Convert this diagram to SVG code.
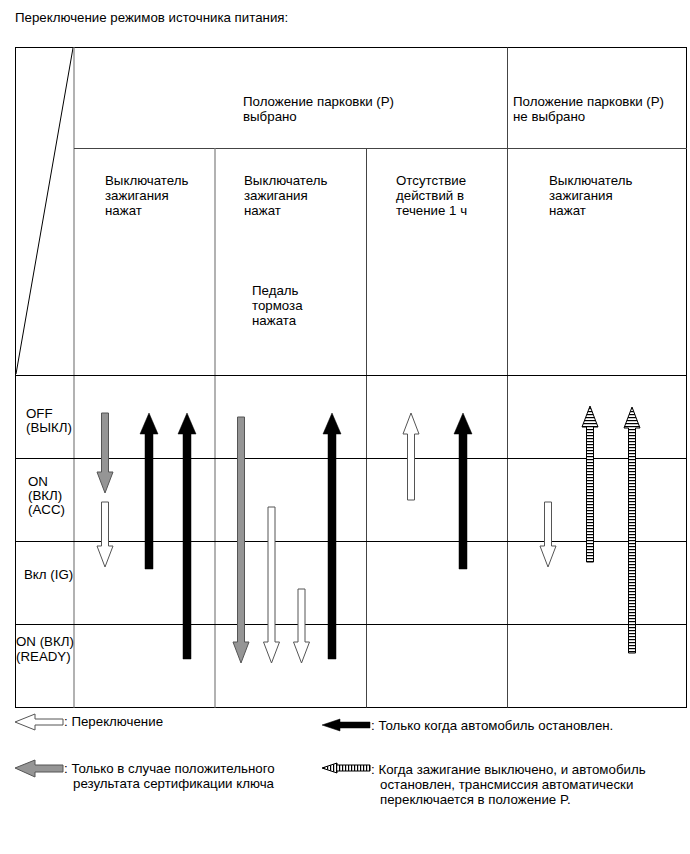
<svg xmlns="http://www.w3.org/2000/svg" width="690" height="854" viewBox="0 0 690 854">
<style>
text{font-family:"Liberation Sans",Arial,sans-serif;font-size:13.3px;fill:#000}
.ln{stroke:#000;stroke-width:1;fill:none}
.lg{stroke:#999;stroke-width:1.5;fill:none}
.ld{stroke:#444;stroke-width:1;fill:none}
.aw{fill:#fff;stroke:#555;stroke-width:1}
.ab{fill:#000;stroke:#000;stroke-width:0.5}
.ag{fill:#959595;stroke:#555;stroke-width:1}
.ah{fill:url(#hs);stroke:#000;stroke-width:1}
.ahv{fill:url(#vs);stroke:#000;stroke-width:1}
</style>
<defs>
<pattern id="hs" patternUnits="userSpaceOnUse" width="10" height="3">
<rect width="10" height="3" fill="#fff"/>
<rect width="10" height="1.2" fill="#000"/>
</pattern>
<pattern id="vs" patternUnits="userSpaceOnUse" width="3" height="10">
<rect width="3" height="10" fill="#fff"/>
<rect width="1.2" height="10" fill="#000"/>
</pattern>
</defs>
<rect width="690" height="854" fill="#fff"/>
<g id="title"><text x="15" y="22">Переключение режимов источника питания:</text></g>
<g id="grid">
<rect class="ln" x="15.5" y="47.5" width="671" height="660"/>
<line class="ln" x1="73" y1="48" x2="16" y2="374"/>
<line class="lg" x1="74" y1="47.5" x2="74" y2="707.5"/>
<line class="ld" x1="74" y1="148.5" x2="687" y2="148.5"/>
<line class="lg" x1="215" y1="148.5" x2="215" y2="707.5"/>
<line class="ld" x1="366.5" y1="148.5" x2="366.5" y2="707.5"/>
<line class="ld" x1="507.5" y1="47.5" x2="507.5" y2="707.5"/>
<line class="ln" x1="15" y1="375.5" x2="687" y2="375.5"/>
<line class="ln" x1="15" y1="458.5" x2="687" y2="458.5"/>
<line class="ln" x1="15" y1="541.5" x2="687" y2="541.5"/>
<line class="ln" x1="15" y1="624.5" x2="687" y2="624.5"/>
</g>
<g id="header-p-selected"><text x="243" y="106">Положение парковки (P)</text><text x="243" y="121">выбрано</text></g>
<g id="header-p-not-selected"><text x="513" y="106">Положение парковки (P)</text><text x="513" y="121">не выбрано</text></g>
<g id="col1-head"><text x="105" y="185">Выключатель</text><text x="105" y="200">зажигания</text><text x="105" y="215">нажат</text></g>
<g id="col2-head"><text x="244" y="185">Выключатель</text><text x="244" y="200">зажигания</text><text x="244" y="215">нажат</text>
<text x="252" y="295">Педаль</text><text x="252" y="310">тормоза</text><text x="252" y="325">нажата</text></g>
<g id="col3-head"><text x="396" y="185">Отсутствие</text><text x="396" y="200">действий в</text><text x="396" y="215">течение 1 ч</text></g>
<g id="col4-head"><text x="549" y="185">Выключатель</text><text x="549" y="200">зажигания</text><text x="549" y="215">нажат</text></g>
<g id="row-off"><text x="26" y="418">OFF</text><text x="26" y="432">(ВЫКЛ)</text></g>
<g id="row-acc"><text x="28" y="486">ON</text><text x="28" y="500">(ВКЛ)</text><text x="28" y="514">(ACC)</text></g>
<g id="row-ig"><text x="24" y="579">Вкл (IG)</text></g>
<g id="row-ready"><text x="16" y="646">ON (ВКЛ)</text><text x="16" y="661">(READY)</text></g>
<g id="connectors">
<polygon class="ag" points="101.5,413 108.5,413 108.5,472 113,472 105,493 97,472 101.5,472"/>
<polygon class="aw" points="101.5,502 108.5,502 108.5,546 113,546 105,567 97,546 101.5,546"/>
<polygon class="ab" points="145,569 153,569 153,434 158,434 149,413 140,434 145,434"/>
<polygon class="ab" points="183,659 191,659 191,434 196,434 187,413 178,434 183,434"/>
<polygon class="ag" points="237.5,417 244.5,417 244.5,642 249,642 241,663 233,642 237.5,642"/>
<polygon class="aw" points="268,507 275,507 275,642 279.5,642 271.5,663 263.5,642 268,642"/>
<polygon class="aw" points="298,589 305,589 305,642 309.5,642 301.5,663 293.5,642 298,642"/>
<polygon class="ab" points="328,659 336,659 336,434 341,434 332,413 323,434 328,434"/>
<polygon class="aw" points="407.5,500 414.5,500 414.5,434 419,434 411,413 403,434 407.5,434"/>
<polygon class="ab" points="459,569 467,569 467,434 472,434 463,413 454,434 459,434"/>
<polygon class="aw" points="544.5,502 551.5,502 551.5,546 556,546 548,567 540,546 544.5,546"/>
<polygon class="ah" points="586.5,562 593.5,562 593.5,427 598,427 590,406 582,427 586.5,427"/>
<polygon class="ah" points="628.5,653 635.5,653 635.5,428 640,428 632,407 624,428 628.5,428"/>
</g>
<g id="legend-switch">
<polygon class="aw" points="63,719 63,725 35,725 35,730 15,722 35,714 35,719"/>
<text x="64" y="726">: Переключение</text>
</g>
<g id="legend-cert">
<polygon class="ag" points="63,765 63,772 35,772 35,777 15,768 35,760 35,765"/>
<text x="64" y="773">: Только в случае положительного</text>
<text x="73" y="788">результата сертификации ключа</text>
</g>
<g id="legend-stopped">
<polygon class="ab" points="370,722 370,728 340,728 340,731 322,725 340,719 340,722"/>
<text x="371" y="730">: Только когда автомобиль остановлен.</text>
</g>
<g id="legend-auto-p">
<polygon class="ahv" points="370,765 370,771 337,771 337,773 322,768 337,763 337,765"/>
<text x="371" y="774">: Когда зажигание выключено, и автомобиль</text>
<text x="380" y="789">остановлен, трансмиссия автоматически</text>
<text x="380" y="804">переключается в положение P.</text>
</g>
</svg>
